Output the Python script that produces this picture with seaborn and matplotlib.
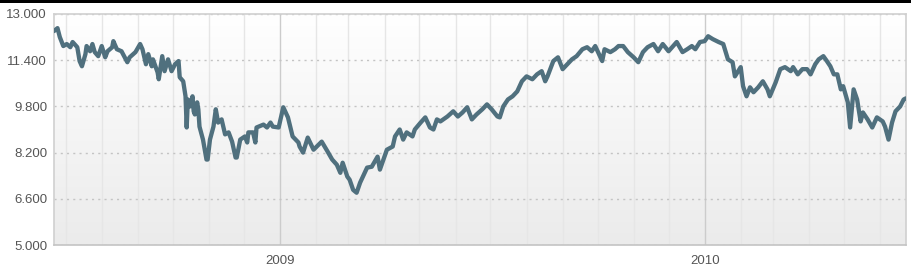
import matplotlib
matplotlib.use("Agg")
import matplotlib.pyplot as plt
import matplotlib.dates as mdates
import matplotlib.ticker as mticker
from matplotlib.patches import Rectangle
from matplotlib.colors import LinearSegmentedColormap
import numpy as np
import pandas as pd
import seaborn as sns

# ---- data ----
dates = [
    "2008-06-21", "2008-06-24", "2008-06-26", "2008-06-29", "2008-07-02", "2008-07-05", "2008-07-07",
    "2008-07-11", "2008-07-13", "2008-07-15", "2008-07-18", "2008-07-19", "2008-07-22", "2008-07-24",
    "2008-07-26", "2008-07-29", "2008-08-01", "2008-08-04", "2008-08-06", "2008-08-10", "2008-08-11",
    "2008-08-14", "2008-08-18", "2008-08-23", "2008-08-25", "2008-08-30", "2008-09-03", "2008-09-05",
    "2008-09-08", "2008-09-10", "2008-09-13", "2008-09-14", "2008-09-18", "2008-09-19", "2008-09-22",
    "2008-09-24", "2008-09-27", "2008-09-30", "2008-10-03", "2008-10-06", "2008-10-07", "2008-10-10",
    "2008-10-12", "2008-10-13", "2008-10-14", "2008-10-16", "2008-10-18", "2008-10-19", "2008-10-20",
    "2008-10-22", "2008-10-23", "2008-10-24", "2008-10-27", "2008-10-30", "2008-10-31", "2008-11-02",
    "2008-11-05", "2008-11-07", "2008-11-09", "2008-11-12", "2008-11-15", "2008-11-18", "2008-11-21",
    "2008-11-24", "2008-11-25", "2008-11-28", "2008-12-02", "2008-12-04", "2008-12-05", "2008-12-09",
    "2008-12-11", "2008-12-12", "2008-12-18", "2008-12-21", "2008-12-24", "2008-12-26", "2008-12-31",
    "2009-01-04", "2009-01-08", "2009-01-12", "2009-01-17", "2009-01-18", "2009-01-21", "2009-01-25",
    "2009-01-30", "2009-02-06", "2009-02-11", "2009-02-15", "2009-02-19", "2009-02-22", "2009-02-24",
    "2009-02-28", "2009-03-02", "2009-03-05", "2009-03-08", "2009-03-11", "2009-03-17", "2009-03-21",
    "2009-03-26", "2009-03-28", "2009-03-31", "2009-04-03", "2009-04-08", "2009-04-10", "2009-04-14",
    "2009-04-17", "2009-04-20", "2009-04-25", "2009-04-27", "2009-05-02", "2009-05-06", "2009-05-10",
    "2009-05-13", "2009-05-16", "2009-05-19", "2009-05-25", "2009-05-30", "2009-06-03", "2009-06-07",
    "2009-06-11", "2009-06-15", "2009-06-19", "2009-06-24", "2009-06-28", "2009-07-02", "2009-07-07",
    "2009-07-09", "2009-07-12", "2009-07-16", "2009-07-20", "2009-07-24", "2009-07-28", "2009-08-01",
    "2009-08-06", "2009-08-10", "2009-08-14", "2009-08-17", "2009-08-19", "2009-08-24", "2009-08-28",
    "2009-09-01", "2009-09-05", "2009-09-09", "2009-09-13", "2009-09-18", "2009-09-22", "2009-09-26",
    "2009-09-29", "2009-10-05", "2009-10-07", "2009-10-12", "2009-10-16", "2009-10-19", "2009-10-23",
    "2009-10-27", "2009-11-01", "2009-11-05", "2009-11-09", "2009-11-13", "2009-11-18", "2009-11-22",
    "2009-11-26", "2009-12-01", "2009-12-05", "2009-12-08", "2009-12-13", "2009-12-17", "2009-12-21",
    "2009-12-24", "2009-12-28", "2010-01-01", "2010-01-04", "2010-01-08", "2010-01-13", "2010-01-17",
    "2010-01-21", "2010-01-25", "2010-01-27", "2010-02-01", "2010-02-03", "2010-02-06", "2010-02-09",
    "2010-02-12", "2010-02-16", "2010-02-20", "2010-02-24", "2010-02-26", "2010-03-03", "2010-03-07",
    "2010-03-11", "2010-03-16", "2010-03-18", "2010-03-22", "2010-03-26", "2010-03-30", "2010-04-02",
    "2010-04-06", "2010-04-09", "2010-04-13", "2010-04-16", "2010-04-19", "2010-04-22", "2010-04-25",
    "2010-04-28", "2010-04-30", "2010-05-04", "2010-05-06", "2010-05-09", "2010-05-12", "2010-05-15",
    "2010-05-17", "2010-05-21", "2010-05-25", "2010-05-29", "2010-06-03", "2010-06-05", "2010-06-08",
    "2010-06-11", "2010-06-14", "2010-06-18", "2010-06-21", "2010-06-23",
]
values = [
    12410, 12510, 12200, 11890, 11960, 11850, 12030,
    11850, 11370, 11190, 11610, 11890, 11710, 11960,
    11680, 11540, 11890, 11500, 11710, 11850, 12060,
    11780, 11710, 11330, 11500, 11680, 11960, 11780,
    11260, 11610, 11190, 11430, 10980, 10740, 11540,
    11020, 11430, 11020, 11260, 11370, 10810, 10670,
    10150, 9070, 10040, 9800, 10150, 9630, 9520,
    9940, 9700, 9100, 8650, 7960, 7960, 8650,
    9100, 9700, 9240, 9350, 8830, 8900, 8580,
    8030, 8030, 8650, 8760, 8550, 8900, 8900,
    8550, 9070, 9170, 9070, 9240, 9100, 9070,
    9770, 9420, 8760, 8550, 8410, 8200, 8720,
    8300, 8580, 8240, 7960, 7780, 7500, 7850,
    7370, 7260, 6910, 6810, 7160, 7680, 7710,
    8060, 7610, 7960, 8300, 8410, 8760, 9000,
    8650, 8900, 8760, 9000, 9240, 9420, 9070,
    9000, 9350, 9280, 9450, 9630, 9450, 9590,
    9770, 9350, 9520, 9700, 9870, 9700, 9450,
    9420, 9800, 10040, 10150, 10320, 10670, 10840,
    10740, 10910, 11020, 10670, 10840, 11370, 11500,
    11090, 11260, 11430, 11540, 11780, 11850, 11710,
    11890, 11370, 11780, 11680, 11780, 11890, 11890,
    11680, 11500, 11330, 11680, 11850, 11960, 11710,
    11960, 11710, 11890, 12030, 11680, 11780, 11890,
    11780, 12030, 12060, 12230, 12130, 12030, 11960,
    11430, 11330, 10840, 11160, 10500, 10150, 10460,
    10290, 10460, 10670, 10390, 10150, 10630, 11090,
    11160, 11020, 11160, 10910, 11090, 11090, 10910,
    11260, 11430, 11540, 11370, 11190, 10910, 10910,
    10390, 10500, 9940, 9070, 10390, 10040, 9280,
    9590, 9350, 9070, 9420, 9280, 9100, 8650,
    9240, 9630, 9800, 10040, 10080,
]
y_ticks = [5000, 6600, 8200, 9800, 11400, 13000]
x_start, x_end = "2008-06-21", "2010-06-23"

df = pd.DataFrame({"date": pd.to_datetime(dates), "value": values})

sns.set_style("white")
plt.rcParams["font.family"] = ["Liberation Sans", "DejaVu Sans"]

W, H = 911, 265
fig = plt.figure(figsize=(W / 100, H / 100), dpi=100)
fig.patch.set_facecolor("white")
ax = fig.add_axes([54 / W, 1 - 245 / H, (906 - 54) / W, (245 - 14) / H])

# gradient background: white at the top, light grey at the bottom
grad = np.linspace(0.0, 1.0, 256).reshape(-1, 1)
cmap = LinearSegmentedColormap.from_list("bg", ["#ffffff", "#ebebeb"])
ax.imshow(grad, extent=[0, 1, 0, 1], transform=ax.transAxes, aspect="auto",
          cmap=cmap, zorder=0, origin="upper")

sns.lineplot(data=df, x="date", y="value", ax=ax, color="#50707e",
             linewidth=3.1, zorder=5, solid_joinstyle="round", solid_capstyle="round")

ax.set_xlim(pd.Timestamp(x_start), pd.Timestamp(x_end))
ax.set_ylim(y_ticks[0], y_ticks[-1])
ax.set_yticks(y_ticks)
ax.yaxis.set_major_formatter(mticker.FuncFormatter(lambda v, p: f"{v:,.0f}".replace(",", ".")))

ax.xaxis.set_major_locator(mdates.YearLocator())
ax.xaxis.set_major_formatter(mticker.FuncFormatter(
    lambda v, p: mdates.num2date(v).strftime("%Y")))
ax.xaxis.set_minor_locator(mdates.MonthLocator())

ax.grid(which="minor", axis="x", color="#e6e6e6", linewidth=1.0, zorder=1)
ax.grid(which="major", axis="x", color="#cccccc", linewidth=1.0, zorder=1)
ax.grid(which="major", axis="y", color="#c4c4c4", linewidth=1.0,
        linestyle=(0, (1.5, 3)), zorder=1)
ax.set_axisbelow(True)

ax.tick_params(axis="both", which="both", length=0, labelsize=9.5, colors="#555555")
ax.tick_params(axis="y", pad=5)
ax.tick_params(axis="x", pad=7)
ax.set_xlabel("")
ax.set_ylabel("")

for side in ["left", "right", "top", "bottom"]:
    ax.spines[side].set_visible(True)
    ax.spines[side].set_color("#d0d0d0")
    ax.spines[side].set_linewidth(1.2)
ax.spines["bottom"].set_color("#c4c4c4")

# top black bar
fig.patches.append(Rectangle((0, 1 - 3 / H), 1, 3 / H, transform=fig.transFigure,
                             facecolor="black", edgecolor="none"))

fig.savefig("out.png", dpi=100)
